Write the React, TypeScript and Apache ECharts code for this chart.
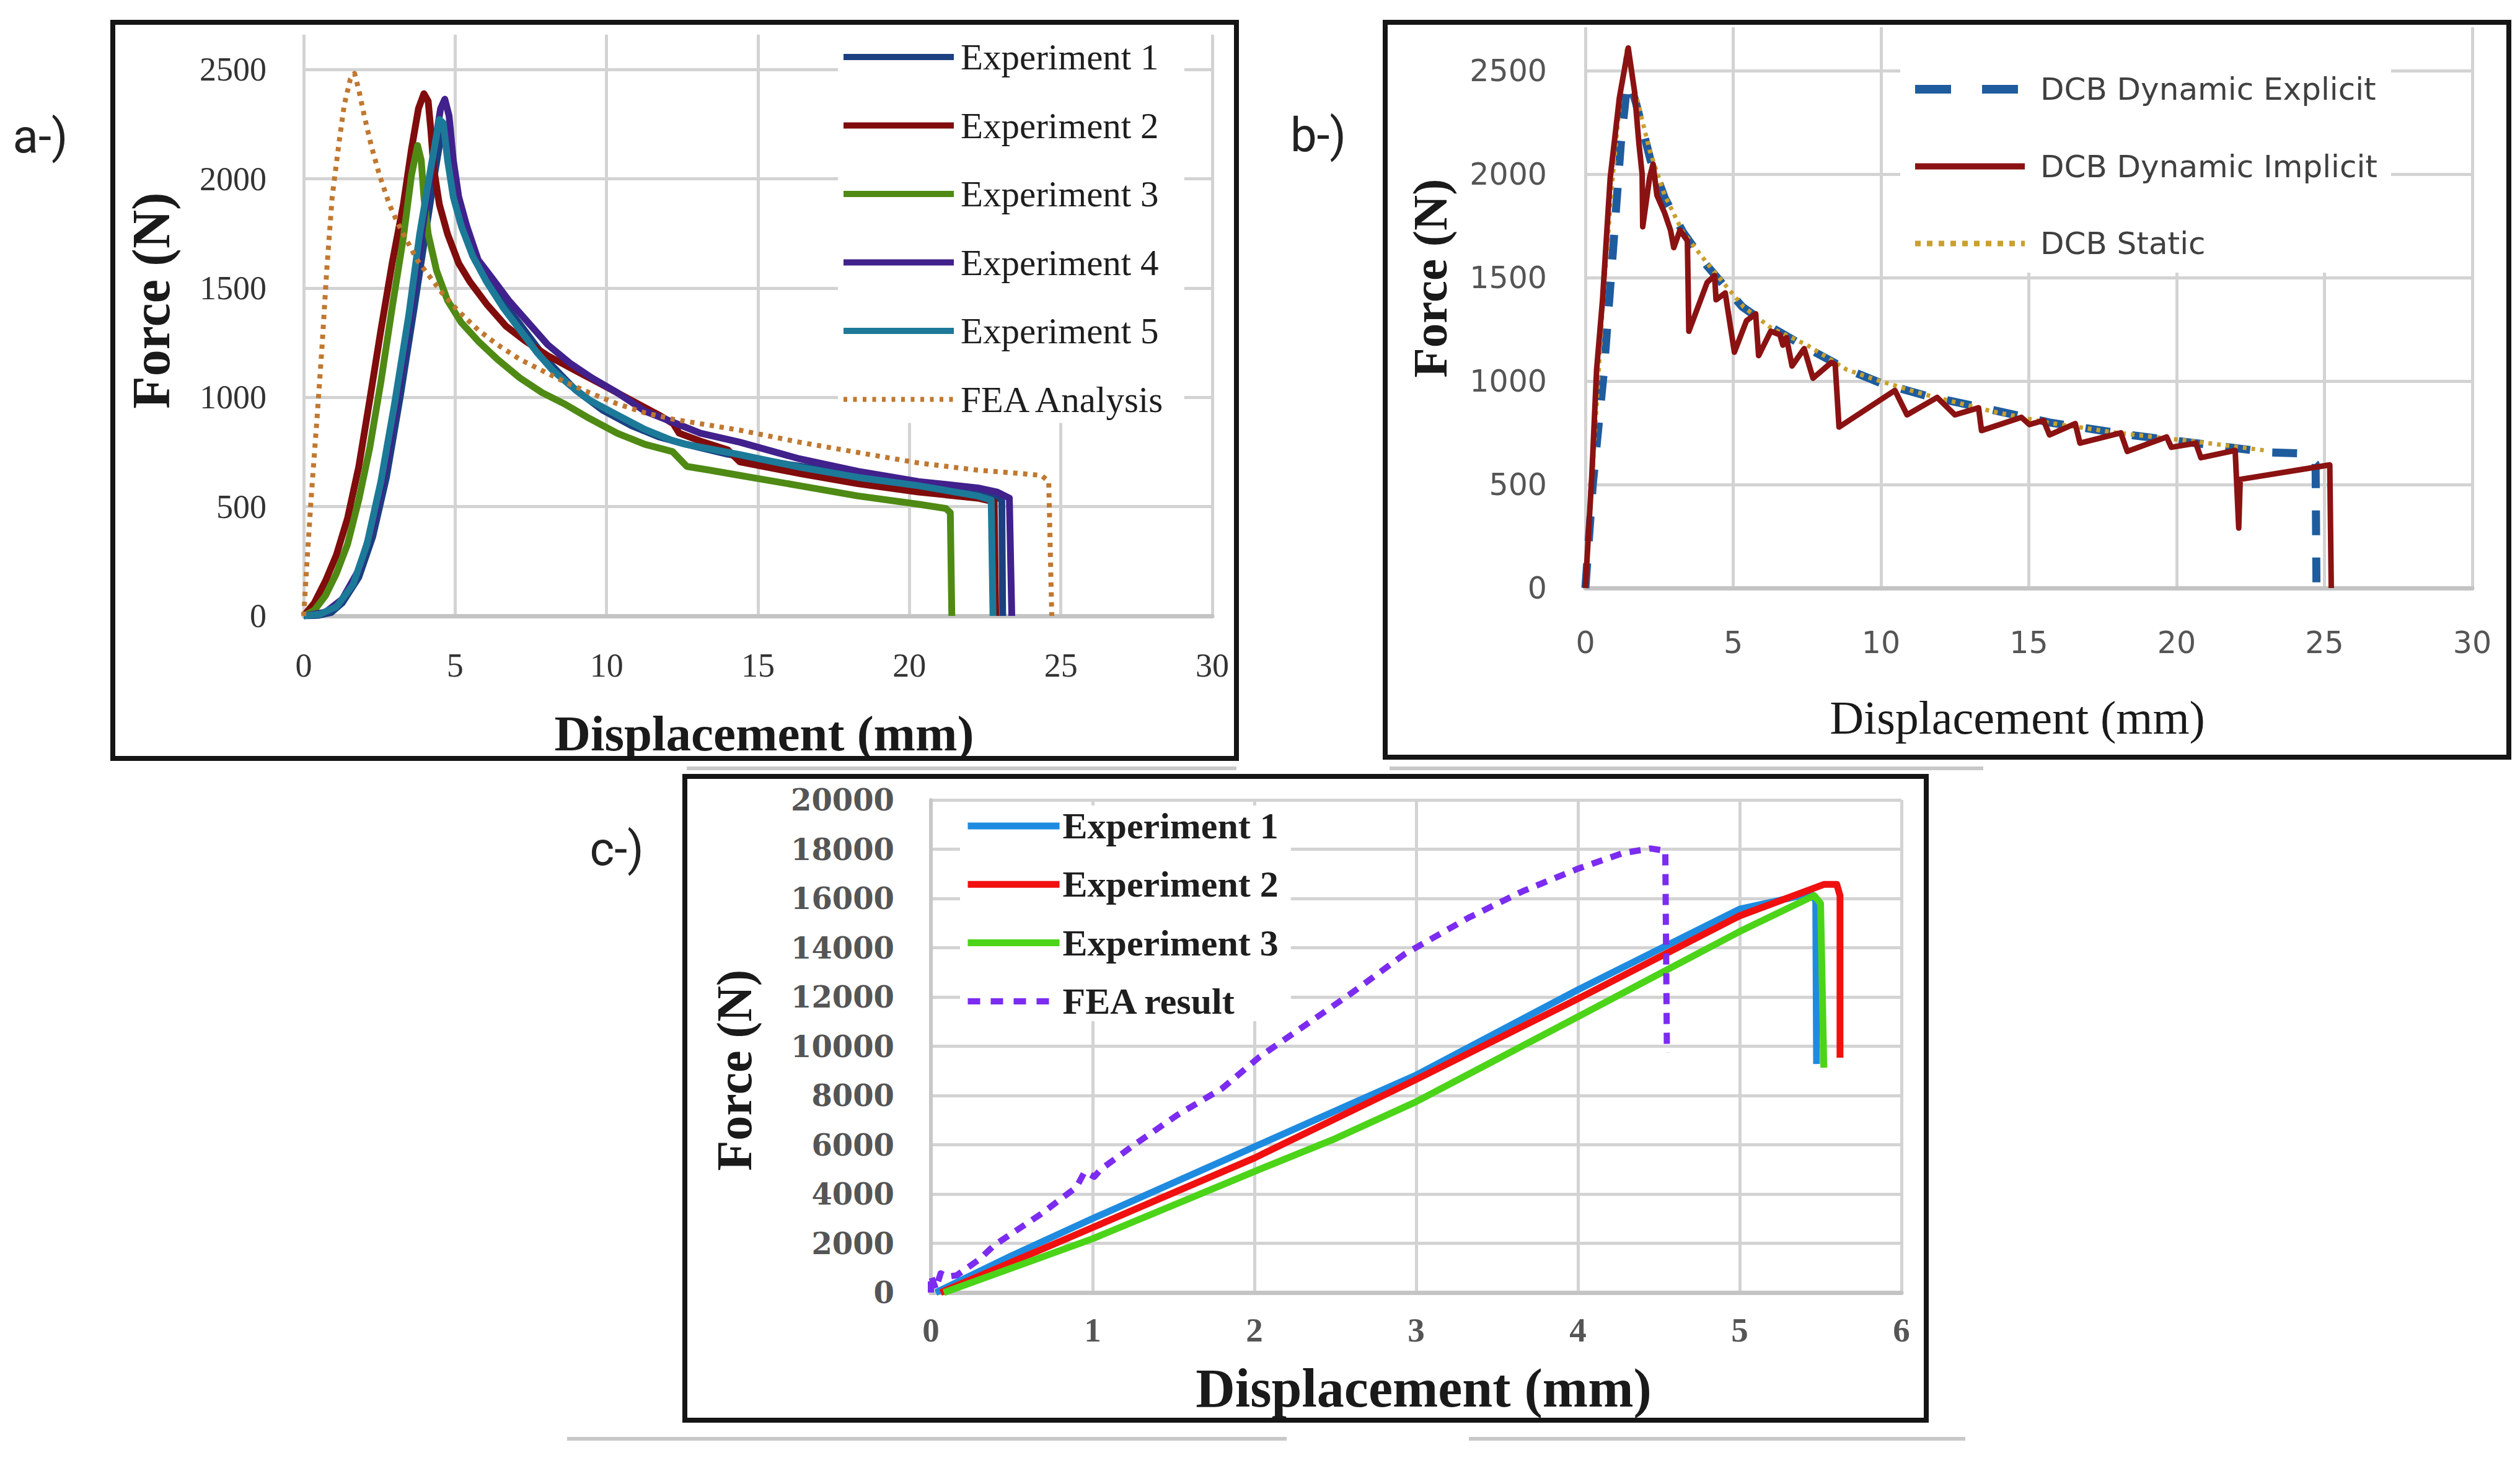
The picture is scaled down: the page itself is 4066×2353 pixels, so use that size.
import React, { useEffect, useRef } from 'react';
import * as echarts from 'echarts';

const W = 4066;
const H = 2353;

// ---------- Panel a (DCB experiments vs FEA) ----------
const aNames = ['Experiment 1', 'Experiment 2', 'Experiment 3', 'Experiment 4', 'Experiment 5', 'FEA Analysis'];
const aColors = ['#1B3F80', '#800C0C', '#4F8A14', '#41218C', '#1C7A98', '#C07830'];
const aExp1 = [[0,0],[0.5,3],[0.9,15],[1.27,59],[1.82,177],[2.28,363],[2.73,633],[3.19,1005],[3.65,1410],[4.02,1748],[4.34,2035],[4.55,2210],[4.68,2235],[4.82,2100],[4.98,1920],[5.25,1770],[5.65,1630],[6.22,1500],[7.14,1335],[8.06,1165],[8.97,1035],[9.89,940],[10.8,872],[11.72,820],[12.64,785],[14.0,740],[16.0,693],[18.3,648],[20.3,608],[22.26,572],[22.9,545],[23.05,528],[23.08,0]];
const aExp2 = [[0,0],[0.35,59],[0.72,160],[1.08,279],[1.45,448],[1.82,684],[2.18,988],[2.55,1309],[2.92,1613],[3.29,1883],[3.56,2137],[3.79,2322],[3.97,2390],[4.11,2356],[4.2,2221],[4.29,2052],[4.48,1883],[4.75,1748],[5.12,1613],[5.49,1529],[6.04,1427],[6.68,1326],[7.32,1258],[8.06,1191],[8.97,1123],[9.89,1056],[10.8,988],[11.72,920],[12.2,880],[12.4,836],[13.1,800],[14.0,760],[14.4,705],[16.37,652],[18.3,605],[20.3,567],[22.26,539],[22.8,522],[22.85,0]];
const aExp3 = [[0,0],[0.35,25],[0.72,93],[1.08,194],[1.45,329],[1.82,532],[2.18,768],[2.55,1072],[2.92,1410],[3.29,1731],[3.56,2018],[3.76,2153],[3.88,2086],[3.97,1917],[4.11,1748],[4.39,1579],[4.75,1444],[5.2,1343],[5.76,1258],[6.4,1174],[7.14,1089],[7.87,1022],[8.6,971],[9.43,904],[10.35,836],[11.27,785],[12.18,752],[12.65,684],[13.4,667],[14.4,643],[16.37,596],[18.3,549],[20.3,511],[21.2,492],[21.35,473],[21.4,0]];
const aExp4 = [[0,0],[0.72,17],[1.27,76],[1.82,211],[2.28,414],[2.73,701],[3.1,1005],[3.55,1410],[3.95,1800],[4.29,2120],[4.52,2322],[4.66,2365],[4.8,2289],[4.94,2086],[5.12,1917],[5.39,1782],[5.76,1630],[6.22,1546],[6.77,1444],[7.41,1343],[8.06,1241],[8.79,1157],[9.52,1089],[10.35,1022],[11.27,937],[12.18,887],[13.1,836],[14.4,795],[16.37,719],[18.3,662],[20.3,615],[22.26,586],[22.9,567],[23.3,539],[23.38,0]];
const aExp5 = [[0,0],[0.53,8],[1.08,42],[1.63,144],[2.09,329],[2.55,616],[3.0,971],[3.47,1377],[3.83,1748],[4.2,2052],[4.48,2272],[4.61,2255],[4.75,2086],[4.94,1917],[5.21,1782],[5.58,1647],[6.04,1529],[6.59,1410],[7.14,1309],[7.69,1208],[8.23,1123],[8.79,1056],[9.43,988],[10.35,920],[11.27,853],[12.18,802],[12.6,786],[14.4,738],[16.37,681],[18.3,634],[20.3,596],[22.26,549],[22.7,530],[22.76,0]];
const aFea = [[0,0],[0.1,228],[0.26,566],[0.44,904],[0.61,1241],[0.76,1579],[0.94,1917],[1.17,2170],[1.34,2339],[1.54,2457],[1.68,2483],[1.82,2407],[2.0,2289],[2.23,2153],[2.5,2018],[2.83,1883],[3.1,1799],[3.42,1714],[3.74,1630],[4.11,1562],[4.57,1478],[5.12,1393],[5.76,1309],[6.4,1241],[7.14,1174],[7.87,1123],[8.6,1072],[9.43,1022],[10.35,971],[11.27,929],[12.2,900],[13.3,875],[14.4,850],[16.37,795],[18.3,748],[20.3,700],[22.26,667],[23.57,653],[24.36,643],[24.6,615],[24.7,0]];

// ---------- Panel b (DCB simulations) ----------
const bNames = ['DCB Dynamic Explicit', 'DCB Dynamic Implicit', 'DCB Static'];
const bColors = ['#1E5C9E', '#8B1212', '#C9A02E'];
const bExplicit = [[0,0],[0.25,500],[0.63,1056],[0.94,1645],[1.2,2150],[1.4,2420],[1.5,2440],[1.7,2350],[2.2,2070],[2.7,1880],[3.3,1720],[4.1,1560],[5.3,1360],[6.3,1260],[7.5,1160],[8.8,1060],[10.0,990],[11.5,930],[13.8,860],[15.7,800],[18.4,740],[21.2,690],[23.2,655],[24.35,650],[24.7,600],[24.73,0]];
const bImplicit = [[0,0],[0.22,551],[0.38,1056],[0.58,1393],[0.84,1982],[1.15,2369],[1.45,2610],[1.66,2403],[1.81,2150],[1.92,2000],[1.94,1746],[2.17,1982],[2.29,2049],[2.42,1898],[2.68,1813],[2.88,1729],[2.99,1645],[3.2,1729],[3.45,1679],[3.5,1241],[4.12,1477],[4.37,1510],[4.42,1393],[4.73,1426],[5.04,1140],[5.45,1292],[5.76,1325],[5.86,1123],[6.27,1241],[6.58,1224],[6.68,1174],[6.8,1210],[6.99,1073],[7.4,1157],[7.7,1014],[8.32,1090],[8.45,1080],[8.58,778],[10.47,955],[10.88,837],[11.9,921],[12.5,837],[13.3,871],[13.4,761],[14.75,825],[15.02,790],[15.5,810],[15.7,740],[16.57,795],[16.73,700],[18.11,750],[18.33,660],[19.66,730],[19.82,680],[20.65,700],[20.82,630],[21.98,665],[22.1,290],[22.15,525],[25.18,595],[25.23,0]];
const bStatic = [[0,0],[0.3,700],[0.6,1400],[0.9,1950],[1.2,2400],[1.4,2600],[1.6,2450],[2.17,2117],[2.68,1898],[3.3,1720],[4.12,1569],[5.35,1359],[6.27,1258],[7.5,1174],[8.83,1056],[9.86,1005],[11.4,938],[13.75,854],[15.6,800],[18.0,750],[20.5,710],[23.0,665]];

// ---------- Panel c (tensile tests) ----------
const cNames = ['Experiment 1', 'Experiment 2', 'Experiment 3', 'FEA result'];
const cColors = ['#1E8BE0', '#F01010', '#4CD418', '#7B2CF0'];
const cExp1 = [[0.03,0],[0.5,1500],[1.0,3005],[2.0,5918],[3.0,8832],[4.0,12292],[5.0,15570],[5.44,16207],[5.47,15900],[5.475,9280]];
const cExp2 = [[0.06,0],[1.0,2640],[2.0,5463],[3.0,8650],[4.0,11928],[5.0,15296],[5.52,16571],[5.6,16571],[5.62,16116],[5.62,9535]];
const cExp3 = [[0.08,0],[1.0,2185],[2.0,4917],[2.5,6250],[3.0,7750],[4.0,11199],[5.0,14659],[5.46,16116],[5.5,15800],[5.52,9130]];
const cFea = [[0,0],[0,700],[0.03,150],[0.06,780],[0.1,640],[0.16,700],[0.3,1350],[0.39,1912],[0.68,3187],[0.9,4280],[0.95,4900],[1.01,4700],[1.05,5000],[1.24,5918],[1.52,7193],[1.8,8286],[2.03,9560],[2.31,10835],[2.59,12110],[2.93,13749],[3.32,15205],[3.66,16298],[4.0,17209],[4.28,17846],[4.45,18028],[4.54,17937],[4.55,9742]];

const gridColor = '#d3d3d3';

function lineSeries(name: string, data: number[][], idx: number, color: string, width: number, type: any, z: number) {
  return {
    type: 'line',
    name,
    xAxisIndex: idx,
    yAxisIndex: idx,
    data,
    symbol: 'none',
    showSymbol: false,
    silent: true,
    z,
    itemStyle: { color },
    lineStyle: { color, width, type, cap: 'butt', join: 'round' },
  };
}

const plain = (v: number) => String(v);

function buildOption() {
  const serif = 'Liberation Serif';
  const xA = (idx: number, max: number, interval: number, label: any) => ({
    gridIndex: idx,
    type: 'value',
    min: 0,
    max,
    interval,
    axisLine: { show: true, onZero: true, lineStyle: { color: '#c4c4c4', width: 7 } },
    axisTick: { show: false },
    splitLine: { show: true, lineStyle: { color: gridColor, width: 5 } },
    axisLabel: Object.assign({ formatter: plain }, label),
  });
  const yA = (idx: number, max: number, interval: number, label: any, showMax: boolean, axisLine: boolean) => ({
    gridIndex: idx,
    type: 'value',
    min: 0,
    max,
    interval,
    axisLine: { show: axisLine, lineStyle: { color: '#c8c8c8', width: 6 } },
    axisTick: { show: false },
    splitLine: { show: true, showMaxLine: showMax, lineStyle: { color: gridColor, width: 5 } },
    axisLabel: Object.assign({ showMaxLabel: showMax, formatter: plain }, label),
  });

  const txt = (text: string, x: number, y: number, size: number, family: string, weight: string, color: string, rot = 0) => ({
    type: 'text',
    x,
    y,
    rotation: rot,
    z: 50,
    silent: true,
    style: {
      text,
      fontSize: size,
      fontFamily: family,
      fontWeight: weight,
      fill: color,
      align: 'center',
      verticalAlign: 'middle',
    },
  });
  const border = (x1: number, y1: number, x2: number, y2: number) => ({
    type: 'rect',
    z: 100,
    silent: true,
    shape: { x: x1, y: y1, width: x2 - x1, height: y2 - y1 },
    style: { fill: 'none', stroke: '#151515', lineWidth: 8 },
  });
  const gline = (x1: number, y1: number, x2: number, y2: number) => ({
    type: 'line',
    z: 10,
    silent: true,
    shape: { x1, y1, x2, y2 },
    style: { stroke: '#c8c8c8', lineWidth: 6 },
  });

  const aLegendStyles = [
    { width: 10, type: 'solid' }, { width: 10, type: 'solid' }, { width: 10, type: 'solid' },
    { width: 10, type: 'solid' }, { width: 10, type: 'solid' }, { width: 8, type: [6, 9.5] },
  ];
  const bLegendStyles = [{ width: 14, type: [58, 50] }, { width: 10, type: 'solid' }, { width: 9, type: [9, 10] }];
  const cLegendStyles = [{ width: 11, type: 'solid' }, { width: 11, type: 'solid' }, { width: 11, type: 'solid' }, { width: 10, type: [20, 17] }];

  return {
    animation: false,
    backgroundColor: '#ffffff',
    grid: [
      { left: 490, top: 56, width: 1466, height: 938 },
      { left: 2558, top: 44, width: 1431, height: 905 },
      { left: 1502, top: 1291, width: 1566, height: 795 },
    ],
    xAxis: [
      xA(0, 30, 5, { fontFamily: serif, fontSize: 54, color: '#333333', margin: 53 }),
      xA(1, 30, 5, { fontFamily: 'DejaVu Sans', fontSize: 49, color: '#555555', margin: 64 }),
      xA(2, 6, 1, { fontFamily: serif, fontWeight: 'bold', fontSize: 55, color: '#555555', margin: 33 }),
    ],
    yAxis: [
      yA(0, 2660, 500, { fontFamily: serif, fontSize: 54, color: '#333333', margin: 60 }, false, false),
      yA(1, 2710, 500, { fontFamily: 'DejaVu Sans', fontSize: 49, color: '#555555', margin: 62 }, false, false),
      yA(2, 20000, 2000, { fontFamily: 'DejaVu Serif', fontWeight: 'bold', fontSize: 48, color: '#555555', margin: 59 }, true, true),
    ],
    legend: [
      {
        left: 1352, top: 56, orient: 'vertical', itemWidth: 178, itemHeight: 8, itemGap: 50.5,
        padding: [6, 28, 8, 4], backgroundColor: '#ffffff', selectedMode: false,
        itemStyle: { opacity: 0 },
        textStyle: { fontFamily: serif, fontSize: 59, color: '#1e1e1e', lineHeight: 60, padding: [0, 0, 0, 6] },
        data: aNames.map((n, i) => ({ name: n, lineStyle: Object.assign({ color: aColors[i] }, aLegendStyles[i]) })),
      },
      {
        left: 3066, top: 44, orient: 'vertical', itemWidth: 177, itemHeight: 8, itemGap: 64.5,
        padding: [70, 22, 17, 17], backgroundColor: '#ffffff', selectedMode: false,
        itemStyle: { opacity: 0 },
        textStyle: { fontFamily: 'DejaVu Sans', fontSize: 50, color: '#404040', lineHeight: 60, padding: [0, 0, 0, 20] },
        data: bNames.map((n, i) => ({ name: n, lineStyle: Object.assign({ color: bColors[i] }, bLegendStyles[i]) })),
      },
      {
        left: 1549, top: 1300, orient: 'vertical', itemWidth: 148, itemHeight: 8, itemGap: 34.3,
        padding: [3, 20, 2, 7], backgroundColor: '#ffffff', selectedMode: false,
        itemStyle: { opacity: 0 },
        textStyle: { fontFamily: serif, fontWeight: 'bold', fontSize: 60, color: '#1e1e1e', lineHeight: 60 },
        data: cNames.map((n, i) => ({ name: n, lineStyle: Object.assign({ color: cColors[i] }, cLegendStyles[i]) })),
      },
    ],
    series: [
      lineSeries(aNames[0], aExp1, 0, aColors[0], 11, 'solid', 3),
      lineSeries(aNames[1], aExp2, 0, aColors[1], 11, 'solid', 3),
      lineSeries(aNames[2], aExp3, 0, aColors[2], 11, 'solid', 3),
      lineSeries(aNames[3], aExp4, 0, aColors[3], 11, 'solid', 3),
      lineSeries(aNames[4], aExp5, 0, aColors[4], 11, 'solid', 3),
      lineSeries(aNames[5], aFea, 0, aColors[5], 8, [7, 9], 3),
      lineSeries(bNames[0], bExplicit, 1, bColors[0], 13, [40, 36], 3),
      lineSeries(bNames[2], bStatic, 1, bColors[2], 7, [6, 8], 3),
      lineSeries(bNames[1], bImplicit, 1, bColors[1], 9, 'solid', 3),
      lineSeries(cNames[0], cExp1, 2, cColors[0], 11, 'solid', 3),
      lineSeries(cNames[1], cExp2, 2, cColors[1], 11, 'solid', 3),
      lineSeries(cNames[2], cExp3, 2, cColors[2], 11, 'solid', 3),
      lineSeries(cNames[3], cFea, 2, cColors[3], 10, [18, 14], 3),
    ],
    graphic: {
      elements: [
        border(182, 36, 1995, 1224),
        border(2235, 36, 4048, 1222),
        border(1105, 1253, 3108, 2292),
        gline(1108, 1240, 1995, 1240),
        gline(2242, 1240, 3200, 1240),
        gline(915, 2322, 2076, 2322),
        gline(2370, 2322, 3171, 2322),
        txt('a-)', 65, 220, 76, 'Roboto', 'normal', '#222222'),
        txt('b-)', 2127, 218, 76, 'Roboto', 'normal', '#222222'),
        txt('c-)', 995, 1370, 76, 'Roboto', 'normal', '#222222'),
        txt('Force (N)', 244, 485, 86, serif, 'bold', '#1a1a1a', Math.PI / 2),
        txt('Displacement (mm)', 1233, 1184, 81, serif, 'bold', '#1a1a1a'),
        txt('Force (N)', 2307, 449, 79, serif, 'bold', '#1a1a1a', Math.PI / 2),
        txt('Displacement (mm)', 3255, 1158, 76, serif, 'normal', '#1a1a1a'),
        txt('Force (N)', 1185, 1727, 80, serif, 'bold', '#1a1a1a', Math.PI / 2),
        txt('Displacement (mm)', 2297, 2240, 88, serif, 'bold', '#1a1a1a'),
      ],
    },
  };
}

export default function App() {
  const ref = useRef<HTMLDivElement>(null);
  useEffect(() => {
    if (!ref.current) return;
    const chart = echarts.init(ref.current, null, { renderer: 'svg', width: W, height: H });
    chart.setOption(buildOption() as any);
    return () => chart.dispose();
  }, []);
  return (
    <div
      ref={ref}
      style={{ position: 'absolute', left: 0, top: 0, width: W, height: H, background: '#ffffff' }}
    />
  );
}
